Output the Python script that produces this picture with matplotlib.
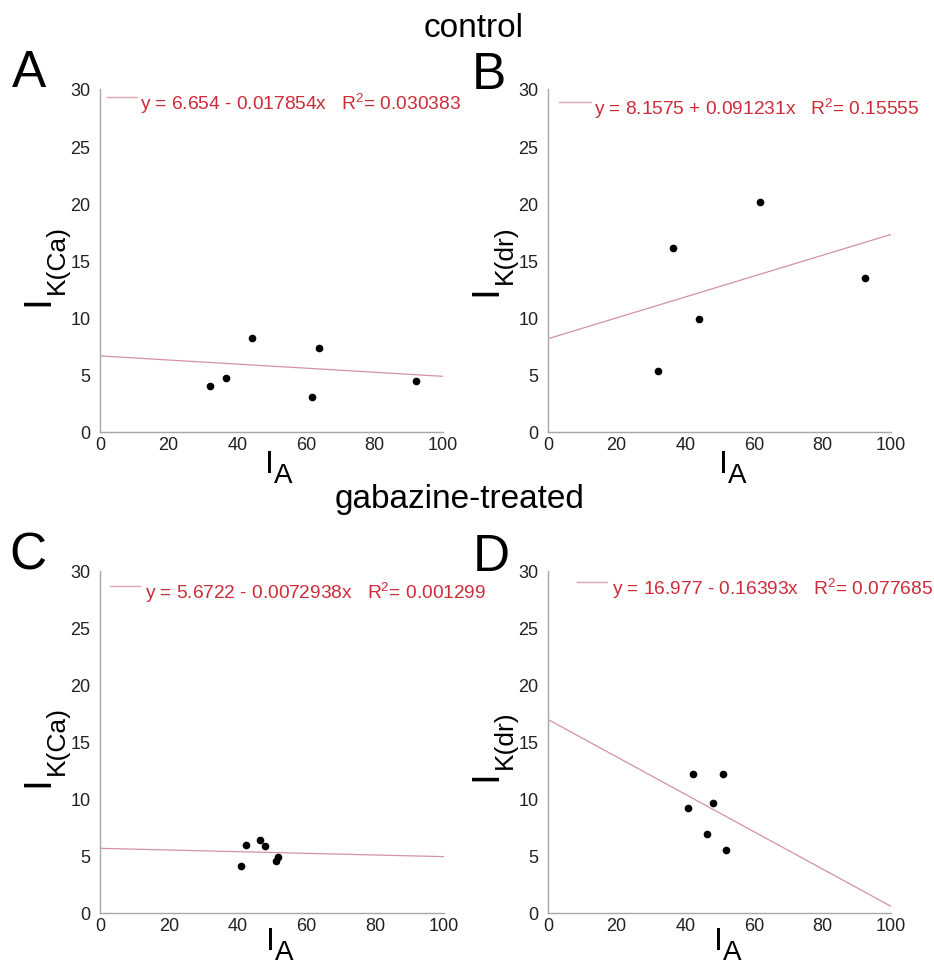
import matplotlib
matplotlib.use('Agg')
import numpy as np
import matplotlib.pyplot as plt

plt.rcParams['font.family'] = ['Liberation Sans', 'DejaVu Sans']
plt.rcParams['mathtext.default'] = 'regular'

# data
ctrl_ia_ca = [32.0, 36.6, 44.2, 61.8, 63.9, 92.2]
ctrl_ikca = [4.0, 4.7, 8.2, 3.1, 7.35, 4.45]
ctrl_ia_dr = [32.0, 36.5, 44.0, 61.8, 92.3]
ctrl_ikdr = [5.3, 16.1, 9.9, 20.1, 13.5]
gab_ia = [40.9, 42.3, 46.5, 48.1, 51.1, 51.8]
gab_ikca = [4.1, 6.0, 6.4, 5.85, 4.6, 4.95]
gab_ikdr = [9.25, 12.2, 6.95, 9.65, 12.2, 5.55]

# regression results printed in the panels
intercepts = [6.654, 8.1575, 5.6722, 16.977]
slopes = [-0.017854, 0.091231, -0.0072938, -0.16393]
r2 = [0.030383, 0.15555, 0.001299, 0.077685]

panel_letters = ['A', 'B', 'C', 'D']
ylabel_subs = ['K(Ca)', 'K(dr)', 'K(Ca)', 'K(dr)']
xticks = [0, 20, 40, 60, 80, 100]
yticks = [0, 5, 10, 15, 20, 25, 30]

W, H = 934, 970
fig = plt.figure(figsize=(W / 100, H / 100), dpi=100)

# axes boxes in pixels: left, top, right, bottom
boxes = [(100, 90, 443, 433), (548, 90, 891, 433),
         (100, 572, 444, 914), (548, 572, 891, 914)]
xs_list = [ctrl_ia_ca, ctrl_ia_dr, gab_ia, gab_ia]
ys_list = [ctrl_ikca, ctrl_ikdr, gab_ikca, gab_ikdr]

# legend line x0, x1, y and text x (axes fraction)
leg_pos = [(0.020, 0.108, 0.977, 0.117), (0.032, 0.125, 0.962, 0.134),
           (0.029, 0.117, 0.956, 0.131), (0.085, 0.172, 0.968, 0.187)]
ylab_y = [0.37, 0.40, 0.37, 0.39]
xlab_x = [0.482, 0.499, 0.482, 0.484]
xlab_off = [-40, -40, -36, -36]
letter_pos = [(12, 87), (472, 89), (9, 570), (473, 571)]

line_col = '#d293a0'
text_red = '#cc2b38'

for i in range(4):
    l, t, r, b = boxes[i]
    ax = fig.add_axes([l / W, 1 - b / H, (r - l) / W, (b - t) / H])
    ax.set_xlim(0, 100)
    ax.set_ylim(0, 30)
    ax.set_xticks(xticks)
    ax.set_yticks(yticks)
    for s in ['top', 'right']:
        ax.spines[s].set_visible(False)
    for s in ['left', 'bottom']:
        ax.spines[s].set_color('#a8a8a8')
        ax.spines[s].set_linewidth(1.0)
    ax.tick_params(axis='both', length=0, labelsize=13, labelcolor='#222222')
    ax.tick_params(axis='y', pad=7)
    ax.tick_params(axis='x', pad=3)

    xx = np.array([0, 100])
    ax.plot(xx, intercepts[i] + slopes[i] * xx, color=line_col, lw=0.9)
    ax.plot(xs_list[i], ys_list[i], 'o', color='black', ms=4.5, clip_on=False)

    x0, x1, yl, xt = leg_pos[i]
    ax.plot([x0, x1], [yl, yl], transform=ax.transAxes, color='#dca4ad',
            lw=1.0, clip_on=False)
    sign = '-' if slopes[i] < 0 else '+'
    label = 'y = %s %s %sx   R$^{2}$= %s' % (str(intercepts[i]), sign,
                                              str(abs(slopes[i])), str(r2[i]))
    ax.annotate(label, xy=(xt, yl), xycoords='axes fraction',
                xytext=(0, -12), textcoords='offset pixels',
                color=text_red, fontsize=13.8, ha='left', va='baseline',
                annotation_clip=False)

    # y label: big I with subscript
    ax.annotate('I', xy=(0, ylab_y[i]), xycoords='axes fraction',
                xytext=(-52, 0), textcoords='offset pixels', rotation=90,
                rotation_mode='anchor', ha='left', va='baseline', fontsize=28,
                annotation_clip=False)
    ax.annotate(ylabel_subs[i], xy=(0, ylab_y[i]), xycoords='axes fraction',
                xytext=(-36, 12), textcoords='offset pixels', rotation=90,
                rotation_mode='anchor', ha='left', va='baseline', fontsize=19,
                annotation_clip=False)

    # x label: I_A
    ax.annotate('I', xy=(xlab_x[i], 0), xycoords='axes fraction',
                xytext=(0, xlab_off[i]), textcoords='offset pixels',
                ha='left', va='baseline', fontsize=23, annotation_clip=False)
    ax.annotate('A', xy=(xlab_x[i], 0), xycoords='axes fraction',
                xytext=(9, xlab_off[i] - 10), textcoords='offset pixels',
                ha='left', va='baseline', fontsize=20, annotation_clip=False)

    lx, ly = letter_pos[i]
    fig.text(lx / W, 1 - ly / H, panel_letters[i], fontsize=37,
             ha='left', va='baseline')

fig.text(474 / W, 1 - 37 / H, 'control', fontsize=24, ha='center', va='baseline')
fig.text(460 / W, 1 - 508 / H, 'gabazine-treated', fontsize=24,
         ha='center', va='baseline')

fig.savefig('out.png', dpi=100)
